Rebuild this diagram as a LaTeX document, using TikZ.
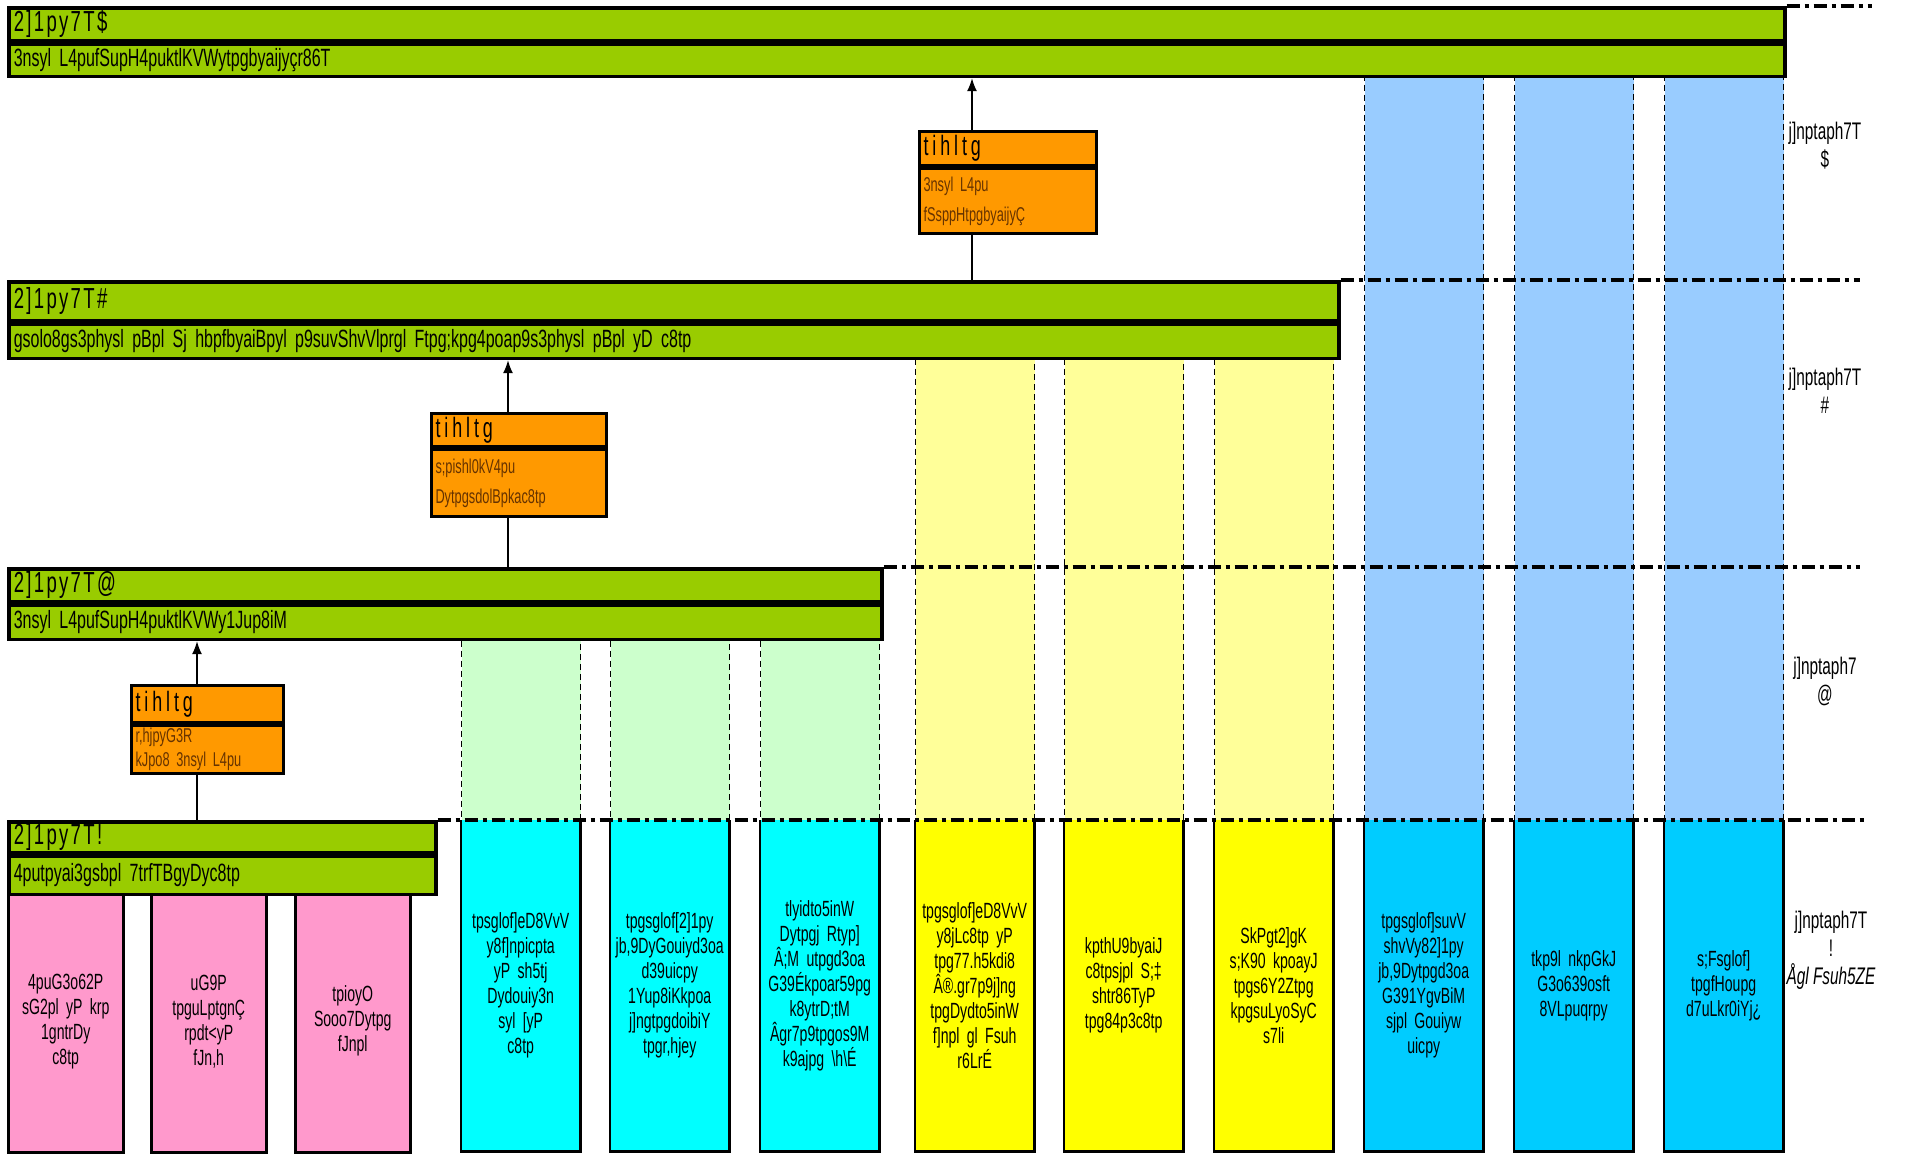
\documentclass[tikz,border=0pt]{standalone}
\usepackage{fontspec}
\newfontfamily\cnd{Liberation Sans}[FakeStretch=0.64]
\usetikzlibrary{arrows.meta}

\definecolor{lvlgreen}{HTML}{99CC00}
\definecolor{boxorange}{HTML}{FF9900}
\definecolor{otext}{HTML}{663300}
\definecolor{colpink}{HTML}{FF99CC}
\definecolor{colcyan}{HTML}{00FFFF}
\definecolor{colyellow}{HTML}{FFFF00}
\definecolor{colblue}{HTML}{00CCFF}
\definecolor{ltgreen}{HTML}{CCFFCC}
\definecolor{ltyellow}{HTML}{FFFF99}
\definecolor{ltblue}{HTML}{99CCFF}

\newcommand{\fsz}[2]{\fontsize{#1}{#2}\selectfont}

\tikzset{
	lvlrow/.style={draw=black, line width=3.5pt, fill=lvlgreen, anchor=north west, inner xsep=5pt, inner ysep=0pt, align=left},
	lvltitle/.style={lvlrow, font=\cnd\fsz{29}{30}\addfontfeature{LetterSpace=8}},
	lvlsub/.style={lvlrow, font=\cnd\fsz{25}{26}},
	obtitle/.style={draw=black, line width=3pt, fill=boxorange, anchor=north west, inner xsep=4pt, inner ysep=0pt, align=left, text width=#1, font=\cnd\fsz{28}{30}\addfontfeature{LetterSpace=14}},
	obbody/.style={obtitle=#1, text=otext, font=\cnd\fsz{20}{30}},
	colbox/.style={anchor=north west, inner xsep=2pt, inner ysep=0pt, text width=115pt, minimum height=331pt, align=center, font=\cnd\fsz{22}{25}},
	ltcol/.style={draw=black, dashed, dash pattern=on 6pt off 4pt, line width=1.3pt, anchor=north west, minimum width=119pt, inner sep=0pt},
	levelline/.style={line width=3.5pt, dash pattern=on 13pt off 5pt on 4pt off 5pt},
	arr/.style={-{Latex[length=13pt,width=10pt]}, line width=2pt},
	link/.style={line width=1.2pt},
	tag/.style={align=center, font=\cnd\fsz{24}{28}}
}

\begin{document}
\begin{tikzpicture}[x=1pt, y=-1pt]
	\useasboundingbox (0,0) rectangle (1912,1154);

	% light columns above the solid ones
	\node[ltcol, fill=ltgreen, minimum height=186pt] (lgA) at (461,634) {};
	\node[ltcol, fill=ltgreen, minimum height=186pt] (lgB) at (610,634) {};
	\node[ltcol, fill=ltgreen, minimum height=186pt] (lgC) at (760,634) {};
	\node[ltcol, fill=ltyellow, minimum height=467pt] (lyA) at (915,353) {};
	\node[ltcol, fill=ltyellow, minimum height=467pt] (lyB) at (1064,353) {};
	\node[ltcol, fill=ltyellow, minimum height=467pt] (lyC) at (1214,353) {};
	\node[ltcol, fill=ltblue, minimum height=749pt] (lbA) at (1364,71) {};
	\node[ltcol, fill=ltblue, minimum height=749pt] (lbB) at (1514,71) {};
	\node[ltcol, fill=ltblue, minimum height=749pt] (lbC) at (1664,71) {};

	% solid columns
	\node[colbox, fill=colpink, draw=black, line width=2.5pt, text width=111pt, minimum height=262pt] (pA) at (7,889) {4puG3o62P\\sG2pl yP krp\\1gntrDy\\c8tp};
	\node[colbox, fill=colpink, draw=black, line width=2.5pt, text width=111pt, minimum height=262pt] (pB) at (150,889) {uG9P\\tpguLptgnÇ\\rpdt<yP\\fJn,h};
	\node[colbox, fill=colpink, draw=black, line width=2.5pt, text width=111pt, minimum height=262pt] (pC) at (294,889) {tpioyO\\Sooo7Dytpg\\fJnpl};

	\node[colbox, fill=colcyan] (cA) at (461,820) {tpsglof]eD8VvV\\y8f]npicpta\\yP sh5tj\\Dydouiy3n\\syl [yP\\c8tp};
	\node[colbox, fill=colcyan] (cB) at (610,820) {tpgsglof[2]1py\\jb,9DyGouiyd3oa\\d39uicpy\\1Yup8iKkpoa\\j]ngtpgdoibiY\\tpgr,hjey};
	\node[colbox, fill=colcyan] (cC) at (760,820) {tlyidto5inW\\Dytpgj Rtyp]\\Â;M utpgd3oa\\G39Ékpoar59pg\\k8ytrD;tM\\Âgr7p9tpgos9M\\k9ajpg \textbackslash h\textbackslash É};

	\node[colbox, fill=colyellow] (yA) at (915,820) {tpgsglof]eD8VvV\\y8jLc8tp yP\\tpg77.h5kdi8\\Â®.gr7p9j]ng\\tpgDydto5inW\\f]npl gl Fsuh\\r6LrÉ};
	\node[colbox, fill=colyellow] (yB) at (1064,820) {kpthU9byaiJ\\c8tpsjpl S;‡\\shtr86TyP\\tpg84p3c8tp};
	\node[colbox, fill=colyellow] (yC) at (1214,820) {SkPgt2]gK\\s;K90 kpoayJ\\tpgs6Y2Ztpg\\kpgsuLyoSyC\\s7li};

	\node[colbox, fill=colblue] (bA) at (1364,820) {tpgsglof]suvV\\shvVy82]1py\\jb,9Dytpgd3oa\\G391YgvBiM\\sjpl Gouiyw\\uicpy};
	\node[colbox, fill=colblue] (bB) at (1514,820) {tkp9l nkpGkJ\\G3o639osft\\8VLpuqrpy};
	\node[colbox, fill=colblue] (bC) at (1664,820) {s;Fsglof]\\tpgfHoupg\\d7uLkr0iYj¿};

	\foreach \c in {cA,cB,cC,yA,yB,yC,bA,bB,bC}
		\draw[line width=2.5pt] (\c.north west) -- (\c.south west) -- (\c.south east) -- (\c.north east);

	% level boxes
	\node[lvltitle, text width=1766pt, minimum height=33pt] (lvlDtitle) at (7,6) {2]1py7T\$};
	\node[lvlsub, text width=1766pt, minimum height=32pt] (lvlDsub) at (lvlDtitle.south west) {3nsyl L4pufSupH4puktlKVWytpgbyaijyçr86T};
	\node[lvltitle, text width=1320pt, minimum height=39pt] (lvlCtitle) at (7,280) {2]1py7T\#};
	\node[lvlsub, text width=1320pt, minimum height=34pt] (lvlCsub) at (lvlCtitle.south west) {gsolo8gs3physl pBpl Sj hbpfbyaiBpyl p9suvShvVlprgl Ftpg;kpg4poap9s3physl pBpl yD c8tp};
	\node[lvltitle, text width=863pt, minimum height=33pt] (lvlBtitle) at (7,567) {2]1py7T@};
	\node[lvlsub, text width=863pt, minimum height=34pt] (lvlBsub) at (lvlBtitle.south west) {3nsyl L4pufSupH4puktlKVWy1Jup8iM};
	\node[lvltitle, text width=417pt, minimum height=31pt] (lvlAtitle) at (7,820) {2]1py7T!};
	\node[lvlsub, text width=417pt, minimum height=38pt] (lvlAsub) at (lvlAtitle.south west) {4putpyai3gsbpl 7trfTBgyDyc8tp};

	% level lines
	\coordinate (endD) at (1872,6);
	\coordinate (endC) at (1860,280);
	\coordinate (endB) at (1860,567);
	\coordinate (endA) at (1866,820);
	\draw[levelline] (lvlDtitle.north east) -- (lvlDtitle.north east -| endD);
	\draw[levelline] (lvlCtitle.north east) -- (lvlCtitle.north east -| endC);
	\draw[levelline] (lvlBtitle.north east) -- (lvlBtitle.north east -| endB);
	\draw[levelline] (lvlAtitle.north east) -- (lvlAtitle.north east -| endA);

	% orange boxes
	\node[obtitle=169pt, minimum height=34pt] (oAtitle) at (918,130) {tihltg};
	\node[obbody=169pt, minimum height=65pt] (oAbody) at (oAtitle.south west) {3nsyl L4pu\\fSsppHtpgbyaijyÇ};
	\node[obtitle=167pt, minimum height=33pt] (oBtitle) at (430,412) {tihltg};
	\node[obbody=167pt, minimum height=67pt] (oBbody) at (oBtitle.south west) {s;pishl0kV4pu\\DytpgsdolBpkac8tp};
	\node[obtitle=144pt, minimum height=37pt] (oCtitle) at (130,684) {tihltg};
	\node[obbody=144pt, minimum height=48pt] (oCbody) at (oCtitle.south west) {r,hjpyG3R\\[-6pt]kJpo8 3nsyl L4pu};

	% connectors
	\coordinate (xA) at (972,0);
	\coordinate (xB) at (508,0);
	\coordinate (xC) at (197,0);
	\draw[arr] (oAtitle.north -| xA) -- (lvlDsub.south -| xA);
	\draw[link] (oAbody.south -| xA) -- (lvlCtitle.north -| xA);
	\draw[arr] (oBtitle.north -| xB) -- (lvlCsub.south -| xB);
	\draw[link] (oBbody.south -| xB) -- (lvlBtitle.north -| xB);
	\draw[arr] (oCtitle.north -| xC) -- (lvlBsub.south -| xC);
	\draw[link] (oCbody.south -| xC) -- (lvlAtitle.north -| xC);

	% level tags
	\node[tag] (tagD) at (1825,146) {j]nptaph7T\\\$};
	\node[tag] (tagC) at (1825,391) {j]nptaph7T\\\#};
	\node[tag] (tagB) at (1825,681) {j]nptaph7\\@};
	\node[tag] (tagA) at (1831,950) {j]nptaph7T\\!\\\textit{Ågl Fsuh5ZE}};
\end{tikzpicture}
\end{document}
